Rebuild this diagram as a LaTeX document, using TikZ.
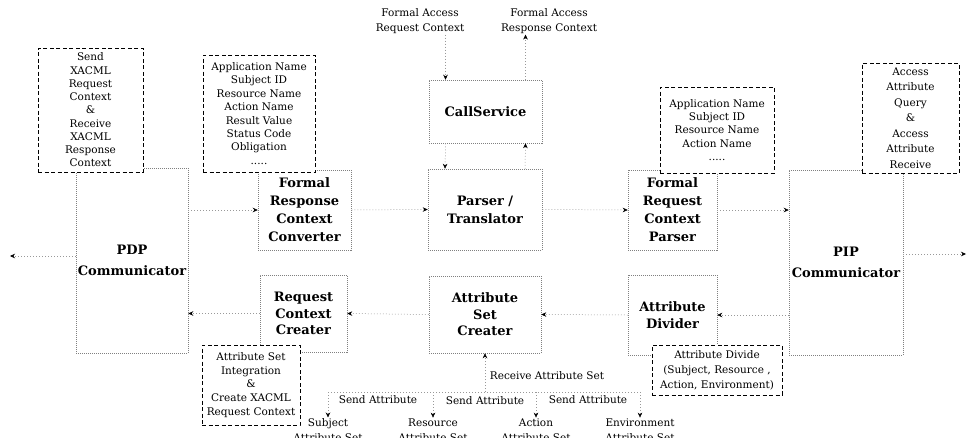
\documentclass[tikz,border=0pt]{standalone}
\usepackage{fontspec}
\setmainfont{DejaVu Serif}
\usetikzlibrary{arrows.meta}

\begin{document}
\begin{tikzpicture}[x=1pt,y=-1pt,
  box/.style={draw=black!50,dash pattern=on 1pt off 1pt,line width=0.5pt,align=center,inner sep=1pt,
    font=\fontsize{13}{18}\selectfont\bfseries},
  note/.style={draw=black,dash pattern=on 4pt off 2.5pt,line width=0.8pt,fill=white,align=center,inner sep=1pt,
    font=\fontsize{10.5}{13.4}\selectfont},
  lbl/.style={align=center,inner sep=1pt,font=\fontsize{10.5}{14.5}\selectfont},
  link/.style={draw=black!40,dash pattern=on 1pt off 2pt,line width=0.5pt},
  flow/.style={link,-{Stealth[color=black,length=5pt,width=4.5pt]}}]
\useasboundingbox (0,0) rectangle (968,437);

\node (pdp) at (132,260.5) [box,minimum width=112pt,minimum height=185pt,font=\fontsize{13}{21}\selectfont\bfseries] {PDP\\Communicator};
\node (cnv) at (304.5,210) [box,minimum width=93pt,minimum height=80pt] {Formal\\Response\\Context\\Converter};
\node (ptr) at (485,209.5) [box,minimum width=114pt,minimum height=81pt] {Parser /\\Translator};
\node (cs) at (485.5,111.5) [box,minimum width=113pt,minimum height=63pt] {CallService};
\node (rqp) at (672.5,210) [box,minimum width=89pt,minimum height=80pt] {Formal\\Request\\Context\\Parser};
\node (pip) at (846,262.5) [box,minimum width=114pt,minimum height=185pt,font=\fontsize{13}{21}\selectfont\bfseries] {PIP\\Communicator};
\node (rcc) at (303.5,313.5) [box,minimum width=87pt,minimum height=77pt,font=\fontsize{13}{16.5}\selectfont\bfseries] {Request\\Context\\Creater};
\node (asc) at (485,314.5) [box,minimum width=112pt,minimum height=77pt,font=\fontsize{13}{16.5}\selectfont\bfseries] {Attribute\\Set\\Creater};
\node (adv) at (672.5,315) [box,minimum width=89pt,minimum height=80pt,font=\fontsize{13}{16.5}\selectfont\bfseries] {Attribute\\Divider};

\node (sendn) at (90.5,110) [note,minimum width=105pt,minimum height=124pt,font=\fontsize{10.5}{13.25}\selectfont] {Send\\XACML\\Request\\Context\\\&\\Receive\\XACML\\Response\\Context};
\node (respn) at (259,113.5) [note,minimum width=112pt,minimum height=117pt] {Application Name\\Subject ID\\Resource Name\\Action Name\\Result Value\\Status Code\\Obligation\\.....};
\node (reqn) at (717,130) [note,minimum width=114pt,minimum height=86pt] {Application Name\\Subject ID\\Resource Name\\Action Name\\.....};
\node (accn) at (910.5,118) [note,minimum width=97pt,minimum height=110pt,font=\fontsize{10.5}{15.5}\selectfont] {Access\\Attribute\\Query\\\&\\Access\\Attribute\\Receive};
\node (intn) at (251,385) [note,minimum width=98pt,minimum height=80pt,font=\fontsize{10.5}{13.75}\selectfont] {Attribute Set\\Integration\\\&\\Create XACML\\Request Context};
\node (divn) at (717,370) [note,minimum width=130pt,minimum height=50pt,font=\fontsize{10.5}{15}\selectfont] {Attribute Divide\\(Subject, Resource ,\\Action, Environment)};

\node (fareq) at (420,21) [lbl] {Formal Access\\Request Context};
\node (fares) at (549,21) [lbl] {Formal Access\\Response Context};
\node (rcv) at (547,376) [lbl] {Receive Attribute Set};
\node (sa1) at (378,400) [lbl] {Send Attribute};
\node (sa2) at (485,401) [lbl] {Send Attribute};
\node (sa3) at (588,400) [lbl] {Send Attribute};
\node (subj) at (328,430) [lbl] {Subject\\Attribute Set};
\node (res) at (433,430) [lbl] {Resource\\Attribute Set};
\node (act) at (536,430) [lbl] {Action\\Attribute Set};
\node (env) at (640,430) [lbl] {Environment\\Attribute Set};

\coordinate (pdpout) at (10,256);
\coordinate (pipout) at (966,254);
\coordinate (bus) at (485,392);
\coordinate (b1) at (328,392);
\coordinate (b2) at (433,392);
\coordinate (b3) at (536,392);
\coordinate (b4) at (640,392);

\draw[flow] ([xshift=-40pt]cs.north |- fareq.south) -- ([xshift=-40pt]cs.north);
\draw[flow] ([xshift=40pt]cs.north) -- ([xshift=40pt]cs.north |- fares.south);
\draw[flow] ([xshift=-40pt]cs.south) -- ([xshift=-40pt]ptr.north);
\draw[flow] ([xshift=40pt]ptr.north) -- ([xshift=40pt]cs.south);

\draw[flow] (pdp.west |- pdpout) -- (pdpout);
\draw[flow] (pip.east |- pipout) -- (pipout);
\draw[flow] (pdp.east |- cnv.west) -- (cnv.west);
\draw[flow] (cnv.east) -- (ptr.west);
\draw[flow] (ptr.east) -- (rqp.west);
\draw[flow] (rqp.east) -- (pip.west |- rqp.east);
\draw[flow] (pip.west |- adv.east) -- (adv.east);
\draw[flow] (adv.west) -- (asc.east);
\draw[flow] (asc.west) -- (rcc.east);
\draw[flow] (rcc.west) -- (pdp.east |- rcc.west);

\draw[link] (b1) -- (b4);
\draw[flow] (bus) -- (asc.south);
\foreach \b/\t in {b1/subj,b2/res,b3/act,b4/env}
  \draw[flow] (\b) -- (\t);
\end{tikzpicture}
\end{document}
